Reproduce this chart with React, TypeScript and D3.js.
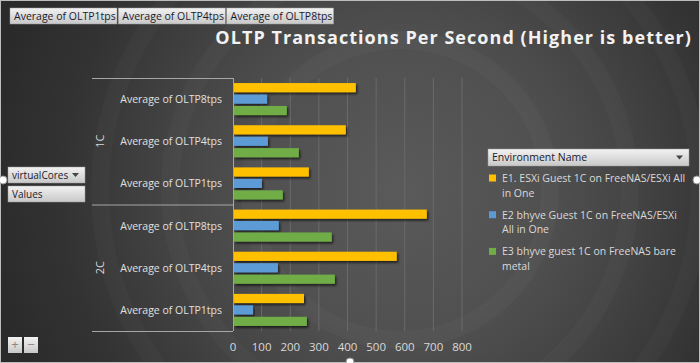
import React from 'react';
import * as d3 from 'd3';

const groups = ['1C', '2C'];
const measures = ['Average of OLTP8tps', 'Average of OLTP4tps', 'Average of OLTP1tps'];
const seriesNames = [
  'E1. ESXi Guest 1C on FreeNAS/ESXi All in One',
  'E2 bhyve Guest 1C on FreeNAS/ESXi All in One',
  'E3 bhyve guest 1C on FreeNAS bare metal',
];
const seriesColors = ['#ffc000', '#5b9bd5', '#70ad47'];
// values per group, per measure (8tps, 4tps, 1tps), per series (E1, E2, E3)
const values1C = [
  [429, 119, 188],
  [394, 122, 230],
  [265, 101, 174],
];
const values2C = [
  [677, 160, 345],
  [572, 157, 356],
  [248, 70, 258],
];
const xTicks = [0, 100, 200, 300, 400, 500, 600, 700, 800];
const filterButtons = ['Average of OLTP1tps', 'Average of OLTP4tps', 'Average of OLTP8tps'];
const legendLines = [
  ['E1. ESXi Guest 1C on FreeNAS/ESXi All', 'in One'],
  ['E2 bhyve Guest 1C on FreeNAS/ESXi', 'All in One'],
  ['E3 bhyve guest 1C on FreeNAS bare', 'metal'],
];

const W = 700;
const H = 363;
const font = "'Open Sans', 'Noto Sans', sans-serif";

const Button = ({ x, y, w, h, label, arrow, size = 10.5 }: { x: number; y: number; w: number; h: number; label: string; arrow?: boolean; size?: number }) => (
  <g>
    <rect x={x} y={y} width={w} height={h} fill="url(#btnGrad)" stroke="#9a9a9a" strokeWidth={0.5} />
    <text x={x + 4} y={y + h / 2 + 3.6} fontSize={size} fill="#1b1b2e" fontFamily={font}>{label}</text>
    {arrow && <path d={`M${x + w - 13},${y + h / 2 - 2} l7,0 l-3.5,4 z`} fill="#444" />}
  </g>
);

export default function App() {
  const x = d3.scaleLinear().domain([0, 800]).range([233, 462]);
  const yGroup = d3.scaleBand<string>().domain(groups).range([78, 331]);
  const yMeasure = d3.scaleBand<string>().domain(measures).range([0, yGroup.bandwidth()]).paddingInner(0.24).paddingOuter(0.12);
  const ySeries = d3.scaleBand<string>().domain(seriesNames).range([0, yMeasure.bandwidth()]).paddingInner(0.2);
  const data = [values1C, values2C];
  const top = yGroup.range()[0];
  const bottom = yGroup.range()[1];

  return (
    <svg width={W} height={H} style={{ position: 'absolute', left: 0, top: 0 }}>
      <defs>
        <radialGradient id="bg" cx="400" cy="190" r="420" gradientUnits="userSpaceOnUse">
          <stop offset="0" stopColor="#5a5a5a" />
          <stop offset="0.35" stopColor="#505050" />
          <stop offset="0.55" stopColor="#444" />
          <stop offset="0.8" stopColor="#333" />
          <stop offset="1" stopColor="#2a2a2a" />
        </radialGradient>
        <linearGradient id="btnGrad" x1="0" y1="0" x2="0" y2="1">
          <stop offset="0" stopColor="#f2f2f2" />
          <stop offset="1" stopColor="#c8c8c8" />
        </linearGradient>
        <filter id="shadow" x="-10%" y="-30%" width="120%" height="180%">
          <feDropShadow dx="1.5" dy="2" stdDeviation="1" floodColor="#000" floodOpacity="0.6" />
        </filter>
      </defs>
      <rect x={0} y={0} width={W} height={H} fill="url(#bg)" />
      {[150, 230, 300].map((r) => (
        <circle key={r} cx={400} cy={190} r={r} fill="none" stroke="#fff" strokeOpacity={0.025} strokeWidth={18} />
      ))}
      <rect x={0.5} y={0.5} width={W - 1} height={H - 1} fill="none" stroke="#bdbdbd" />

      {/* filter buttons */}
      {filterButtons.map((b, i) => (
        <Button key={b} x={10 + i * 108.3} y={8} w={107} h={16} label={b} />
      ))}

      {/* title */}
      <text x={692} y={44} textAnchor="end" fontSize={18} fontWeight="bold" fill="#f2f2f2" fontFamily={font} letterSpacing={1.05}>
        OLTP Transactions Per Second (Higher is better)
      </text>

      {/* gridlines */}
      {xTicks.slice(1).map((t) => (
        <line key={t} x1={x(t)} x2={x(t)} y1={top} y2={bottom} stroke="#6a6a6a" strokeWidth={1} />
      ))}

      {/* category axis frame */}
      <line x1={92} x2={233} y1={top + 0.5} y2={top + 0.5} stroke="#a6a6a6" />
      <line x1={92} x2={233} y1={yGroup('2C')! + 0.5} y2={yGroup('2C')! + 0.5} stroke="#a6a6a6" />
      <line x1={92} x2={233} y1={bottom + 0.5} y2={bottom + 0.5} stroke="#a6a6a6" />
      <line x1={233.5} x2={233.5} y1={top} y2={bottom} stroke="#a6a6a6" />

      {groups.map((g, gi) => {
        const gy = yGroup(g)!;
        return (
          <g key={g}>
            <text
              transform={`translate(104,${gy + yGroup.bandwidth() / 2}) rotate(-90)`}
              textAnchor="middle"
              fontSize={11}
              fill="#d9d9d9"
              fontFamily={font}
            >
              {g}
            </text>
            {measures.map((m, mi) => {
              const my = gy + yMeasure(m)!;
              return (
                <g key={m}>
                  <text x={222} y={my + yMeasure.bandwidth() / 2 + 4} textAnchor="end" fontSize={10.5} fill="#e0e0e0" fontFamily={font}>
                    {m}
                  </text>
                  {seriesNames.map((s, si) => (
                    <rect
                      key={s}
                      x={x(0) + 1}
                      y={my + ySeries(s)!}
                      width={x(data[gi][mi][si]) - x(0) - 1}
                      height={ySeries.bandwidth()}
                      fill={seriesColors[si]}
                      filter="url(#shadow)"
                    />
                  ))}
                </g>
              );
            })}
          </g>
        );
      })}

      {/* x axis labels */}
      {xTicks.map((t) => (
        <text key={t} x={x(t)} y={351} textAnchor="middle" fontSize={11.5} fill="#d9d9d9" fontFamily={font}>
          {t}
        </text>
      ))}

      {/* row field buttons */}
      <Button x={8} y={167} w={77} h={16} label="virtualCores" arrow size={10} />
      <Button x={8} y={186} w={77} h={16} label="Values" size={10} />

      {/* legend */}
      <Button x={488} y={149} w={201} h={17} label="Environment Name" arrow />
      {legendLines.map((lines, i) => (
        <g key={i}>
          <rect x={489} y={174.5 + i * 36.7} width={7} height={7} fill={seriesColors[i]} />
          {lines.map((l, li) => (
            <text key={li} x={502} y={182 + i * 36.7 + li * 14.5} fontSize={10.5} fill="#d9d9d9" fontFamily={font}>
              {l}
            </text>
          ))}
        </g>
      ))}

      {/* zoom buttons */}
      <rect x={8} y={337} width={14} height={16} fill="url(#btnGrad)" />
      <rect x={24} y={337} width={14} height={16} fill="url(#btnGrad)" />
      <text x={15} y={349} textAnchor="middle" fontSize={13} fill="#888" fontFamily={font}>+</text>
      <text x={31} y={349} textAnchor="middle" fontSize={13} fill="#888" fontFamily={font}>−</text>

      {/* selection handles */}
      {[[3, 180], [697, 180], [350, 362]].map(([hx, hy], i) => (
        <circle key={i} cx={hx} cy={hy} r={4} fill="#fff" stroke="#999" />
      ))}
    </svg>
  );
}
